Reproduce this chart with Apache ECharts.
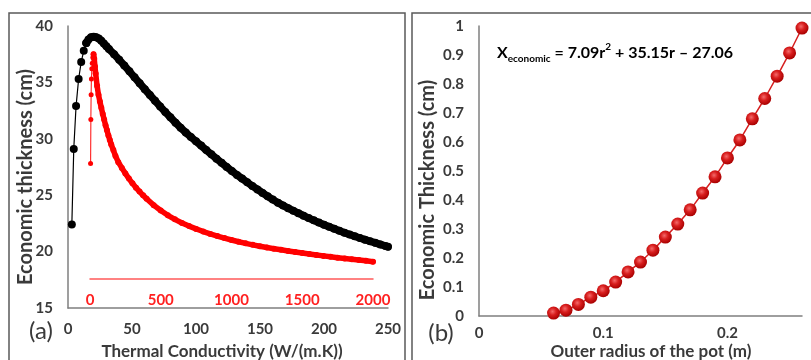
<!DOCTYPE html>
<html>
<head>
<meta charset="utf-8">
<script src="https://cdn.jsdelivr.net/npm/echarts@6/dist/echarts.min.js"></script>
<style>html,body{margin:0;padding:0;background:#fff;}#c{width:811px;height:360px;}</style>
</head>
<body>
<div id="c"></div>
<script>
// Panel (a): black series, thermal conductivity 0-250 (bottom axis)
const blackRampX = [3, 4.5, 6.3, 8.3, 10.3, 12.3, 14.3];
const blackRampY = [22.4, 29.1, 32.9, 35.3, 36.8, 37.8, 38.5];
const blackX = [14.3, 16, 18, 20, 22, 24, 26, 28, 30, 32,
  36, 40, 44, 48, 52, 56, 60, 64, 68, 72, 76, 80, 84, 88, 92, 96, 100, 104, 108, 112,
  116, 120, 124, 128, 132, 136, 140, 144, 148, 152, 156, 160, 164, 168, 172, 176, 180,
  184, 188, 192, 196, 200, 204, 208, 212, 216, 220, 224, 228, 232, 236, 240, 244, 248, 250];
const blackY = [38.5, 38.8, 39.0, 39.05, 39.0, 38.9, 38.7, 38.45, 38.2, 37.95,
  37.5, 37.0, 36.5, 35.98, 35.45, 34.92, 34.4, 33.88, 33.37, 32.87, 32.38, 31.9, 31.43, 30.98, 30.55, 30.16, 29.78, 29.4, 29.0, 28.62,
  28.24, 27.87, 27.5, 27.15, 26.8, 26.47, 26.14, 25.82, 25.51, 25.2, 24.9, 24.61, 24.34, 24.09, 23.85, 23.62, 23.4,
  23.18, 22.97, 22.77, 22.57, 22.38, 22.2, 22.02, 21.85, 21.68, 21.52, 21.36, 21.21, 21.06, 20.92, 20.78, 20.64, 20.5, 20.43];

// Panel (a): red series, secondary axis 0-2000
const redRampX = [4, 6, 8, 10, 13, 16, 20, 25];
const redRampY = [27.8, 31.7, 33.9, 35.3, 36.2, 36.7, 37.2, 37.5];
const redX = [25, 30, 35, 40, 50, 60, 70, 80, 90, 100, 110, 120, 130, 140, 150, 165, 180, 200,
  225, 250, 275, 300, 325, 350, 375, 400, 450, 500, 550, 600, 650, 700, 750, 800, 850, 900, 950, 1000,
  1050, 1100, 1150, 1200, 1250, 1300, 1350, 1400, 1450, 1500, 1550, 1600, 1650, 1700, 1750, 1800, 1850, 1900, 1950, 2000];
const redY = [37.5, 37.1, 36.4, 35.8, 34.7, 33.9, 33.3, 32.75, 32.2, 31.7, 31.2, 30.75, 30.3, 29.9, 29.5, 29.0, 28.48, 27.93,
  27.42, 26.93, 26.47, 26.05, 25.67, 25.32, 24.99, 24.68, 24.12, 23.64, 23.22, 22.86, 22.54, 22.26, 22.01, 21.78, 21.57, 21.38, 21.2, 21.03,
  20.87, 20.73, 20.6, 20.48, 20.37, 20.26, 20.16, 20.06, 19.96, 19.87, 19.78, 19.7, 19.62, 19.54, 19.46, 19.39, 19.32, 19.25, 19.18, 19.1];

// Panel (b): economic thickness vs outer radius
const radiusX = [0.06, 0.07, 0.08, 0.09, 0.10, 0.11, 0.12, 0.13, 0.14, 0.15, 0.16, 0.17, 0.18, 0.19, 0.20, 0.21, 0.22, 0.23, 0.24, 0.25, 0.26];
const thickY = [0.01, 0.02, 0.04, 0.065, 0.087, 0.117, 0.152, 0.186, 0.227, 0.272, 0.317, 0.366, 0.424, 0.48, 0.545, 0.607, 0.68, 0.75, 0.827, 0.907, 0.993];

const FONT = 'Lato';
const TXT = '#3a3a3a';
const AX = '#7f7f7f';
const zip = (a, b) => a.map((v, i) => [v, b[i]]);

const chart = echarts.init(document.getElementById('c'));
const lbl = (extra) => Object.assign({fontFamily: FONT, fontWeight: 'bold', fontSize: 15, color: TXT}, extra);

chart.setOption({
  animation: false,
  grid: [
    {left: 68, right: 423, top: 26, bottom: 52},
    {left: 90, right: 438, top: 26, bottom: 52},
    {left: 479, right: 9, top: 26, bottom: 44}
  ],
  xAxis: [
    {gridIndex: 0, type: 'value', min: 0, max: 250, interval: 50,
      axisLine: {show: true, lineStyle: {color: AX, width: 1.5}}, axisTick: {show: false},
      splitLine: {show: false}, axisLabel: lbl({margin: 14})},
    {gridIndex: 1, type: 'value', min: 0, max: 2000, interval: 500, position: 'bottom', offset: -29,
      axisLine: {show: true, lineStyle: {color: '#ff5a5a', width: 1.5}}, axisTick: {show: false},
      splitLine: {show: false}, axisLabel: lbl({margin: 14, color: '#ff2020', formatter: (v) => String(v)})},
    {gridIndex: 2, type: 'value', min: 0, max: 0.26, interval: 0.1,
      axisLine: {show: true, lineStyle: {color: AX, width: 1.5}}, axisTick: {show: false},
      splitLine: {show: false}, axisLabel: lbl({margin: 10, showMaxLabel: false})}
  ],
  yAxis: [
    {gridIndex: 0, type: 'value', min: 15, max: 40, interval: 5,
      axisLine: {show: true, lineStyle: {color: AX, width: 1.5}}, axisTick: {show: false},
      splitLine: {show: false}, axisLabel: lbl({margin: 15})},
    {gridIndex: 1, type: 'value', min: 15, max: 40, show: false, splitLine: {show: false}},
    {gridIndex: 2, type: 'value', min: 0, max: 1, interval: 0.1,
      axisLine: {show: true, lineStyle: {color: AX, width: 1.5}}, axisTick: {show: false},
      splitLine: {show: false}, axisLabel: lbl({margin: 15})}
  ],
  series: [
    {type: 'line', xAxisIndex: 0, yAxisIndex: 0, data: zip(blackRampX, blackRampY),
      symbol: 'circle', symbolSize: 8, itemStyle: {color: '#000'},
      lineStyle: {color: '#000', width: 1.2}, z: 3},
    {type: 'line', xAxisIndex: 0, yAxisIndex: 0, data: zip(blackX, blackY),
      symbol: 'circle', symbolSize: 8, itemStyle: {color: '#000'},
      lineStyle: {color: '#000', width: 7.5, join: 'round', cap: 'round'}, z: 3},
    {type: 'line', xAxisIndex: 1, yAxisIndex: 1, data: zip(redRampX, redRampY),
      symbol: 'circle', symbolSize: 5, itemStyle: {color: '#ff0000'},
      lineStyle: {color: '#ff3030', width: 1.2}, z: 4},
    {type: 'line', xAxisIndex: 1, yAxisIndex: 1, data: zip(redX, redY),
      symbol: 'circle', symbolSize: 6, itemStyle: {color: '#ff0000'},
      lineStyle: {color: '#ff0000', width: 5.5, join: 'round', cap: 'round'}, z: 4},
    {type: 'line', xAxisIndex: 2, yAxisIndex: 2, data: zip(radiusX, thickY),
      symbol: 'circle', symbolSize: 13,
      itemStyle: {color: {type: 'radial', x: 0.42, y: 0.38, r: 0.62,
        colorStops: [{offset: 0, color: '#f46a6a'}, {offset: 0.45, color: '#d81e1e'}, {offset: 1, color: '#a80000'}]}},
      lineStyle: {color: '#d62020', width: 1.5}, z: 4}
  ],
  graphic: [
    {type: 'rect', shape: {x: 9, y: 13, width: 396, height: 360}, style: {fill: 'none', stroke: '#5a5a5a', lineWidth: 1.5}, z: 0},
    {type: 'rect', shape: {x: 412, y: 13, width: 420, height: 360}, style: {fill: 'none', stroke: '#5a5a5a', lineWidth: 1.5}, z: 0},
    {type: 'text', x: 26, y: 177, rotation: Math.PI / 2, z: 10,
      style: {text: 'Economic thickness (cm)', fontFamily: FONT, fontWeight: 'bold', fontSize: 20, fill: TXT, align: 'center', verticalAlign: 'middle'}},
    {type: 'text', x: 222, y: 352, z: 10,
      style: {text: 'Thermal Conductivity (W/(m.K))', fontFamily: FONT, fontWeight: 'bold', fontSize: 17, fill: TXT, align: 'center', verticalAlign: 'middle'}},
    {type: 'text', x: 41, y: 331, z: 10,
      style: {text: '(a)', fontFamily: FONT, fontSize: 24, fill: TXT, align: 'center', verticalAlign: 'middle'}},
    {type: 'text', x: 428, y: 190, rotation: Math.PI / 2, z: 10,
      style: {text: 'Economic Thickness (cm)', fontFamily: FONT, fontWeight: 'bold', fontSize: 20, fill: TXT, align: 'center', verticalAlign: 'middle'}},
    {type: 'text', x: 651, y: 352, z: 10,
      style: {text: 'Outer radius of the pot (m)', fontFamily: FONT, fontWeight: 'bold', fontSize: 17, fill: TXT, align: 'center', verticalAlign: 'middle'}},
    {type: 'text', x: 441, y: 333, z: 10,
      style: {text: '(b)', fontFamily: FONT, fontSize: 24, fill: TXT, align: 'center', verticalAlign: 'middle'}},
    {type: 'text', x: 497, y: 53, z: 10,
      style: {text: '{b|X}{s|economic}{b| = 7.09r}{p|2}{b| + 35.15r \u2013 27.06}', align: 'left', verticalAlign: 'middle',
        rich: {
          b: {fontFamily: FONT, fontWeight: 'bold', fontSize: 16, color: '#222', lineHeight: 22, verticalAlign: 'middle'},
          s: {fontFamily: FONT, fontWeight: 'bold', fontSize: 10, color: '#222', lineHeight: 12, verticalAlign: 'bottom'},
          p: {fontFamily: FONT, fontWeight: 'bold', fontSize: 10, color: '#222', lineHeight: 12, verticalAlign: 'top'}
        }}}
  ]
});
</script>
</body>
</html>
